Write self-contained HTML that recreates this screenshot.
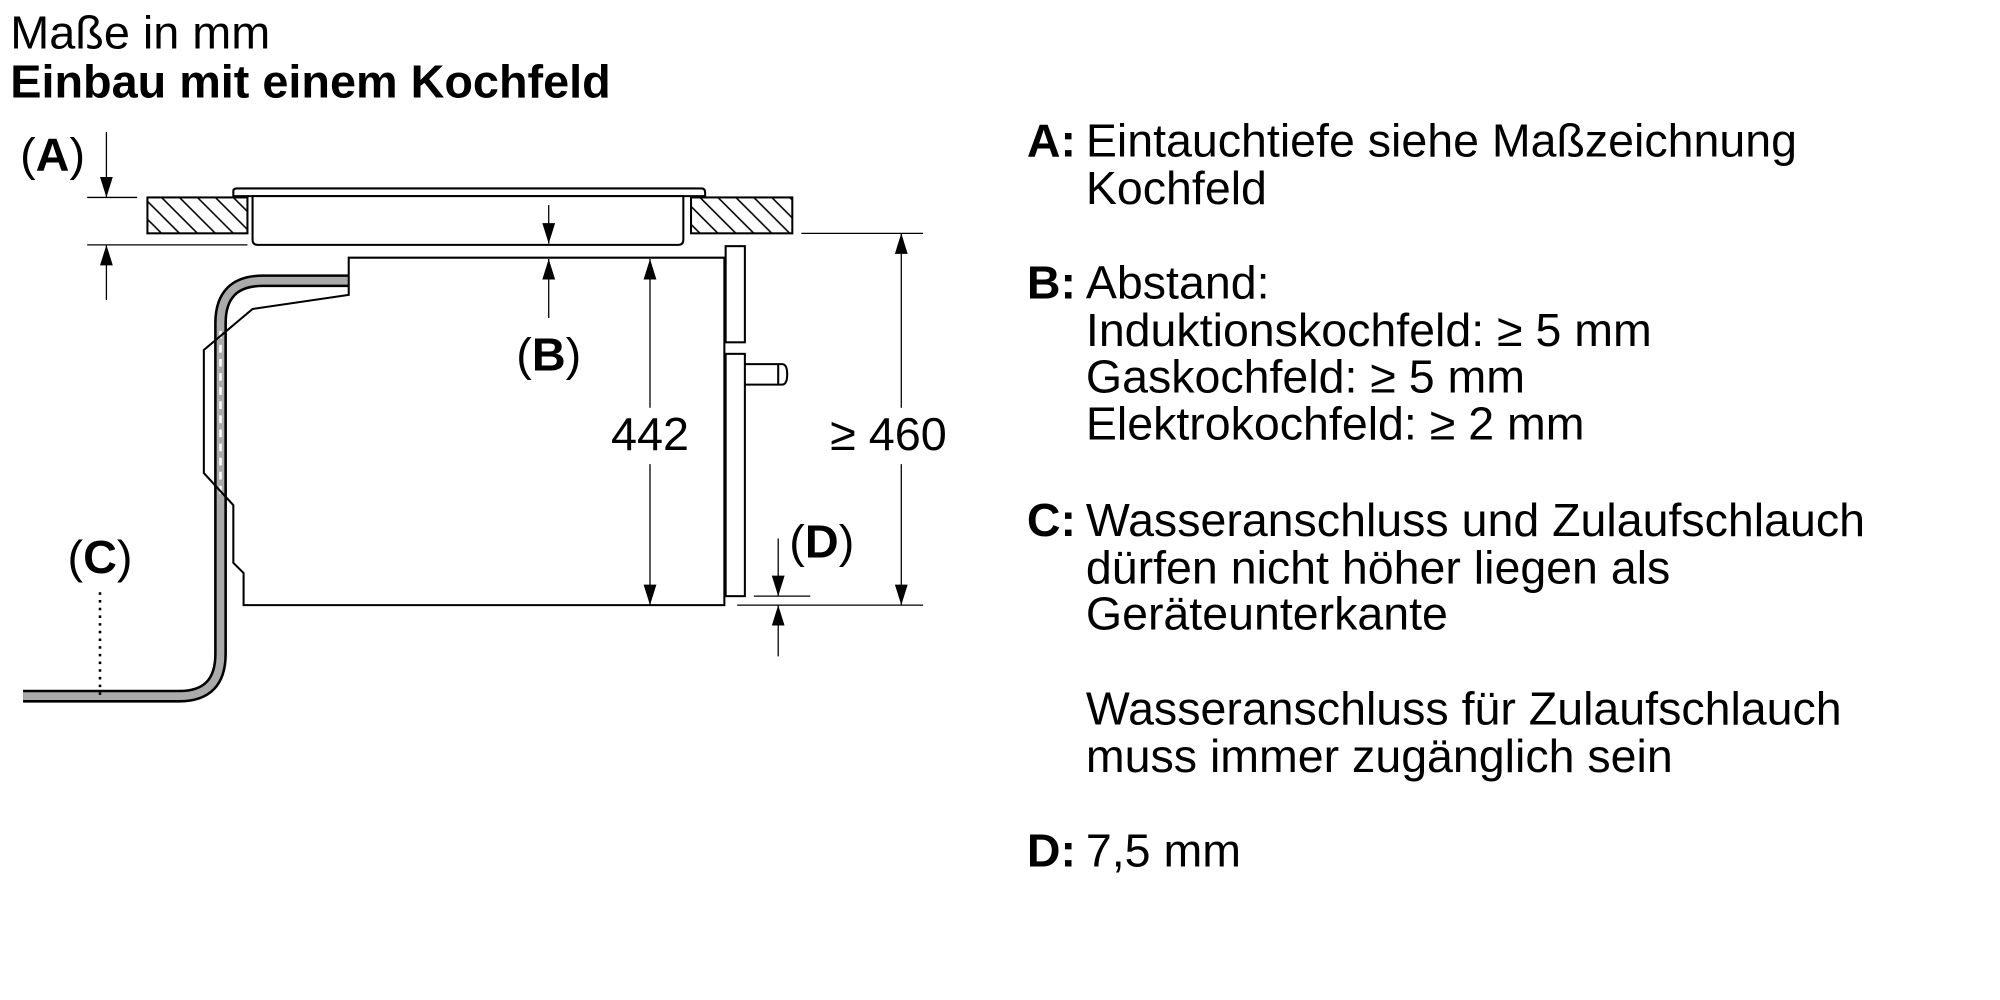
<!DOCTYPE html>
<html><head><meta charset="utf-8"><style>
html,body{margin:0;padding:0;background:#fff;width:2000px;height:1000px;overflow:hidden}
svg{display:block}
text{font-family:"Liberation Sans",Arial,sans-serif;fill:#000}
</style></head><body>
<svg width="2000" height="1000" viewBox="0 0 1560 780" preserveAspectRatio="none" xmlns="http://www.w3.org/2000/svg">
<defs>
<pattern id="h" patternUnits="userSpaceOnUse" width="14" height="14">
<path d="M-4,-4 L18,18 M-18,-4 L4,18 M10,-4 L32,18" stroke="#000" stroke-width="1.2"/>
</pattern>
<marker id="ar" viewBox="0 0 16 12" refX="16" refY="6" markerWidth="16" markerHeight="12" markerUnits="userSpaceOnUse" orient="auto"><path d="M0,1 L16,6 L0,11 Z" fill="#000"/></marker>
</defs>
<text x="8" y="38" font-size="36.5">Maße in mm</text>
<text x="8" y="76" font-size="36.5" font-weight="bold">Einbau mit einem Kochfeld</text>

<g font-size="36.3">
<text x="801" y="122" font-weight="bold">A:</text><text x="847" y="122">Eintauchtiefe siehe Maßzeichnung</text>
<text x="847" y="159">Kochfeld</text>
<text x="801" y="233" font-weight="bold">B:</text><text x="847" y="233">Abstand:</text>
<text x="847" y="270">Induktionskochfeld: ≥ 5 mm</text>
<text x="847" y="306">Gaskochfeld: ≥ 5 mm</text>
<text x="847" y="343">Elektrokochfeld: ≥ 2 mm</text>
<text x="801" y="418" font-weight="bold">C:</text><text x="847" y="418">Wasseranschluss und Zulaufschlauch</text>
<text x="847" y="455">dürfen nicht höher liegen als</text>
<text x="847" y="491">Geräteunterkante</text>
<text x="847" y="565">Wasseranschluss für Zulaufschlauch</text>
<text x="847" y="602">muss immer zugänglich sein</text>
<text x="801" y="676" font-weight="bold">D:</text><text x="847" y="676">7,5 mm</text>
</g>

<g fill="none" stroke="#000" stroke-width="1.6">
<rect x="115" y="154" width="78" height="28" fill="url(#h)"/>
<rect x="539" y="154" width="79" height="28" fill="url(#h)"/>
<path d="M182,153 L182,149 Q182,147 185,147 L547,147 Q550,147 550,150 L550,153 Z" fill="#fff"/>
<path d="M197,153 L197,187 Q197,191 201,191 L529,191 Q533,191 533,187 L533,153 Z" fill="#fff"/>
</g>

<path d="M272,219 L205,219 Q172,219 172,252 L172,510 Q172,543 140,543 L18,543" fill="none" stroke="#000" stroke-width="10"/>
<path d="M272,219 L205,219 Q172,219 172,252 L172,510 Q172,543 140,543 L18,543" fill="none" stroke="#aaa" stroke-width="6"/>
<line x1="172" y1="258" x2="172" y2="386" stroke="#fff" stroke-width="2" stroke-dasharray="6,5"/>

<g fill="none" stroke="#000" stroke-width="1.6">
<path d="M272,201 L565,201 L565,472 L190,472 L190,447 L182,439 L182,394 L159,369 L159,273 L197,241 L272,230 Z"/>
<rect x="566" y="192" width="15" height="75"/>
<rect x="566" y="276" width="15" height="189"/>
<path d="M581,284 L610,284 Q614,284 614,292 Q614,300 610,300 L581,300"/>
<line x1="607" y1="284" x2="607" y2="300"/>
</g>

<g stroke="#000" stroke-width="1" fill="none">
<line x1="83" y1="103" x2="83" y2="154" marker-end="url(#ar)"/>
<line x1="68" y1="154" x2="107" y2="154"/>
<line x1="68" y1="191" x2="193" y2="191"/>
<line x1="83" y1="234" x2="83" y2="191" marker-end="url(#ar)"/>
<line x1="428" y1="160" x2="428" y2="190" marker-end="url(#ar)"/>
<line x1="428" y1="248" x2="428" y2="202" marker-end="url(#ar)"/>
<line x1="507" y1="318" x2="507" y2="202" marker-end="url(#ar)"/>
<line x1="507" y1="362" x2="507" y2="472" marker-end="url(#ar)"/>
<line x1="625" y1="182" x2="720" y2="182"/>
<line x1="575" y1="472" x2="720" y2="472"/>
<line x1="703" y1="318" x2="703" y2="182" marker-end="url(#ar)"/>
<line x1="703" y1="362" x2="703" y2="472" marker-end="url(#ar)"/>
<line x1="588" y1="465" x2="632" y2="465"/>
<line x1="607" y1="420" x2="607" y2="465" marker-end="url(#ar)"/>
<line x1="607" y1="512" x2="607" y2="472" marker-end="url(#ar)"/>
<line x1="78" y1="462" x2="78" y2="546" stroke-width="2" stroke-dasharray="2,4"/>
</g>

<g font-size="36.5" text-anchor="middle">
<text x="41" y="133">(<tspan font-weight="bold">A</tspan>)</text>
<text x="428" y="289">(<tspan font-weight="bold">B</tspan>)</text>
<text x="78" y="447">(<tspan font-weight="bold">C</tspan>)</text>
<text x="641" y="435">(<tspan font-weight="bold">D</tspan>)</text>
<text x="507" y="351">442</text>
<text x="693" y="351">≥ 460</text>
</g>
</svg>
</body></html>
